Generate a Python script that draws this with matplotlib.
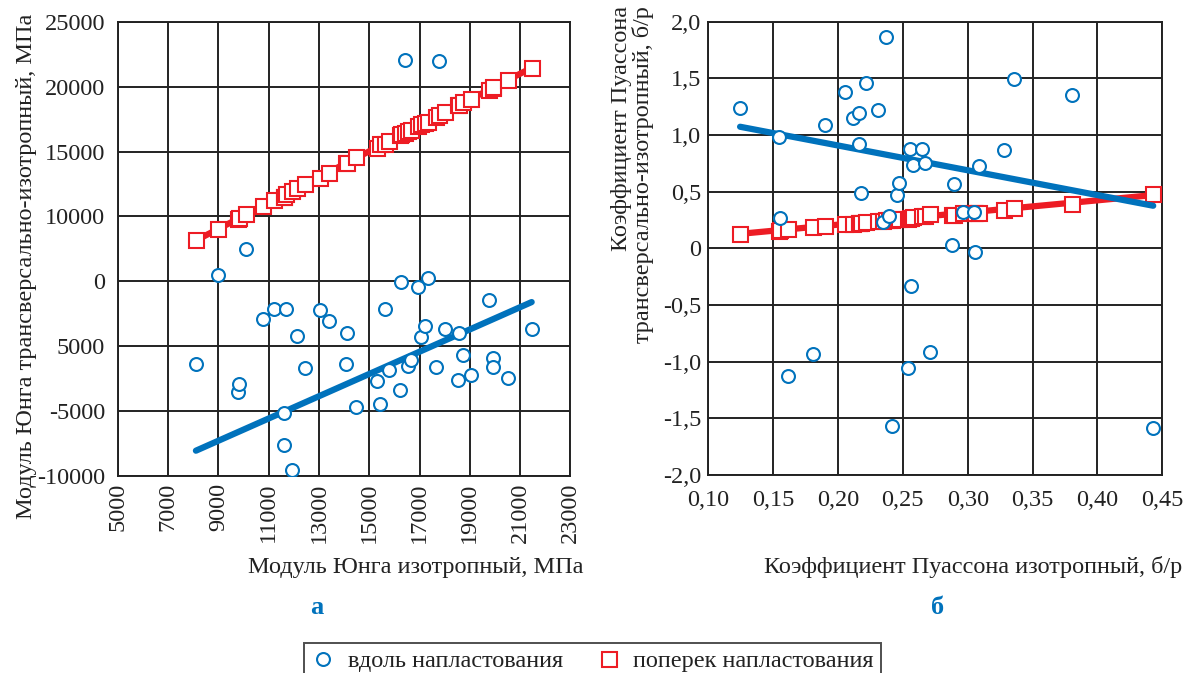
import matplotlib
matplotlib.use("Agg")
import matplotlib.pyplot as plt
from matplotlib.lines import Line2D

plt.rcParams['font.family'] = ['Liberation Serif', 'DejaVu Serif']

BLUE = "#0072BC"
RED = "#ED1C24"

# ---- Left panel (Young's modulus) ----
E_iso = [8110, 8980, 9780, 9830, 10100, 10780, 11225, 11630, 11630, 11700, 11915,
         12140, 12445, 13040, 13400, 14060, 14100, 14480, 15330, 15440, 15620, 15780,
         16240, 16280, 16430, 16560, 16660, 16960, 17050, 17200, 17340, 17660, 17780,
         18010, 18520, 18575, 18730, 19050, 19755, 19930, 19940, 20500, 21460]
E_along = [-1350, 5460, -3500, -2930, 7510, 2100, 2890, -5120, -7630, 2840, -9540,
           760, -1700, 2790, 1920, -1390, 1040, -4680, -2700, -4450, 2870, -1860,
           -3400, 4950, 22050, -1550, -1060, 4540, 690, 1560, 5280, -1620, 21950,
           1300, -2600, 1020, -650, -2220, 3540, -930, -1600, -2470, 1300]
E_across = [8180, 9030, 9830, 9900, 10190, 10820, 11260, 11480, 11520, 11760, 11950,
            12170, 12480, 12920, 13380, 14080, 14120, 14560, 15290, 15555, 15600, 15830,
            16300, 16350, 16420, 16600, 16660, 16980, 17100, 17170, 17300, 17680, 17800,
            18020, 18560, 18620, 18790, 19070, 19760, 19920, 20000, 20490, 21460]
E_fit_x = [8110, 21460]
E_fit_along = [-8050, 3400]
E_fit_across = [8150, 21450]
E_xticks = [5000, 7000, 9000, 11000, 13000, 15000, 17000, 19000, 21000, 23000]
E_yticks = [-10000, -5000, 0, 5000, 10000, 15000, 20000, 25000]
E_ytick_labels = ['-10000', '-5000', '5000', '0', '10000', '15000', '20000', '25000']

# ---- Right panel (Poisson's ratio) ----
nu_iso = [0.1245, 0.1546, 0.1556, 0.1617, 0.1806, 0.1903, 0.2053, 0.2117, 0.2160, 0.2160,
          0.2181, 0.2215, 0.2309, 0.2348, 0.2373, 0.2392, 0.2415, 0.2458, 0.2471, 0.2541,
          0.2556, 0.2559, 0.2579, 0.2649, 0.2670, 0.2711, 0.2880, 0.2898, 0.2965, 0.3050,
          0.3058, 0.3089, 0.3282, 0.3357, 0.3804, 0.443]
nu_along = [1.241, 0.985, 0.267, -1.124, -0.933, 1.086, 1.377, 1.150, 1.194, 0.918,
            0.485, 1.459, 1.221, 0.232, 1.862, 0.285, -1.571, 0.468, 0.579, -1.057,
            0.876, -0.333, 0.733, 0.874, 0.750, -0.915, 0.026, 0.570, 0.323, 0.318,
            -0.030, 0.729, 0.865, 1.494, 1.353, -1.586]
nu_across = [0.129, 0.155, 0.158, 0.170, 0.185, 0.199, 0.215, 0.218, 0.222, 0.224,
             0.221, 0.232, 0.240, 0.243, 0.246, 0.250, 0.252, 0.258, 0.262, 0.262,
             0.270, 0.266, 0.278, 0.285, 0.282, 0.300, 0.297, 0.298, 0.309, 0.312,
             0.314, 0.314, 0.338, 0.355, 0.388, 0.482]
nu_fit_x = [0.1245, 0.443]
nu_fit_along = [1.073, 0.376]
nu_fit_across = [0.128, 0.470]
nu_xticks = [0.10, 0.15, 0.20, 0.25, 0.30, 0.35, 0.40, 0.45]
nu_xtick_labels = ['0,10', '0,15', '0,20', '0,25', '0,30', '0,35', '0,40', '0,45']
nu_yticks = [-2.0, -1.5, -1.0, -0.5, 0.0, 0.5, 1.0, 1.5, 2.0]
nu_ytick_labels = ['-2,0', '-1,5', '-1,0', '-0,5', '0', '0,5', '1,0', '1,5', '2,0']

legend_labels = ['вдоль напластования', 'поперек напластования']

W, H = 1185, 673
fig = plt.figure(figsize=(W / 100, H / 100), dpi=100)

def fx(px):
    return px / W

def fy(py):
    return 1 - py / H

FS = 17.5
TC = '#222222'
ax1 = fig.add_axes([fx(117.7), fy(476), fx(570.4) - fx(117.7), fy(21.7) - fy(476)])
ax2 = fig.add_axes([fx(708.3), fy(475), fx(1162.3) - fx(708.3), fy(21.7) - fy(475)])

MS_C = 9.3
MS_S = 10.8

def style(ax):
    ax.grid(True, color=TC, linewidth=1.4)
    ax.set_axisbelow(True)
    for s in ax.spines.values():
        s.set_color(TC)
        s.set_linewidth(1.4)
    ax.tick_params(length=0, labelsize=FS, colors=TC)

# Left
ax1.plot(E_fit_x, E_fit_across, color=RED, lw=4.5, solid_capstyle='round', zorder=3)
ax1.plot(E_iso, E_across, ls='none', marker='s', ms=MS_S, mfc='white', mec=RED, mew=1.5, zorder=4)
ax1.plot(E_fit_x, E_fit_along, color=BLUE, lw=4.5, solid_capstyle='round', zorder=5)
ax1.plot(E_iso, E_along, ls='none', marker='o', ms=MS_C, mfc='white', mec=BLUE, mew=1.5, zorder=6)
ax1.set_xlim(5000, 23000)
ax1.set_ylim(-10000, 25000)
ax1.set_xticks(E_xticks)
ax1.set_xticklabels([str(v) for v in E_xticks], rotation=90)
ax1.set_yticks(E_yticks)
ax1.set_yticklabels(E_ytick_labels)
style(ax1)
ax1.tick_params(axis='y', pad=9)
ax1.tick_params(axis='x', pad=5)

# Right
ax2.plot(nu_fit_x, nu_fit_across, color=RED, lw=4.5, solid_capstyle='round', zorder=3)
ax2.plot(nu_iso, nu_across, ls='none', marker='s', ms=MS_S, mfc='white', mec=RED, mew=1.5, zorder=4)
ax2.plot(nu_fit_x, nu_fit_along, color=BLUE, lw=4.5, solid_capstyle='round', zorder=5)
ax2.plot(nu_iso, nu_along, ls='none', marker='o', ms=MS_C, mfc='white', mec=BLUE, mew=1.5, zorder=6)
ax2.set_xlim(0.10, 0.45)
ax2.set_ylim(-2.0, 2.0)
ax2.set_xticks(nu_xticks)
ax2.set_xticklabels(nu_xtick_labels)
ax2.set_yticks(nu_yticks)
ax2.set_yticklabels(nu_ytick_labels)
style(ax2)
ax2.tick_params(axis='y', pad=5)
ax2.tick_params(axis='x', pad=11)

fig.text(fx(27), fy(266), 'Модуль Юнга трансверсально-изотропный, МПа', rotation=90,
         ha='center', va='center', fontsize=FS, color=TC)
fig.text(fx(583), fy(567), 'Модуль Юнга изотропный, МПа', ha='right', va='center',
         fontsize=FS, color=TC)
fig.text(fx(633), fy(6), 'Коэффициент Пуассона\nтрансверсально-изотропный, б/р', rotation=90,
         ha='center', va='top', multialignment='right', fontsize=FS, color=TC, linespacing=1.0)
fig.text(fx(1182), fy(567), 'Коэффициент Пуассона изотропный, б/р', ha='right', va='center',
         fontsize=FS, color=TC)
fig.text(fx(317), fy(607), 'а', ha='center', va='center', fontsize=19, fontweight='bold', color=BLUE)
fig.text(fx(938), fy(607), 'б', ha='center', va='center', fontsize=19, fontweight='bold', color=BLUE)

handles = [Line2D([], [], ls='none', marker='o', ms=MS_C, mfc='white', mec=BLUE, mew=1.5),
           Line2D([], [], ls='none', marker='s', ms=MS_S, mfc='white', mec=RED, mew=1.5)]
leg = fig.legend(handles, legend_labels, loc='upper center', bbox_to_anchor=(0.5, fy(643)),
                 ncol=2, frameon=True, fancybox=False, fontsize=FS, handlelength=1.0,
                 handletextpad=0.5, columnspacing=1.4, borderpad=0.3, borderaxespad=0.0)
leg.get_frame().set_edgecolor(TC)
leg.get_frame().set_linewidth(1.4)
for t in leg.get_texts():
    t.set_color(TC)

fig.savefig('out.png', dpi=100)
